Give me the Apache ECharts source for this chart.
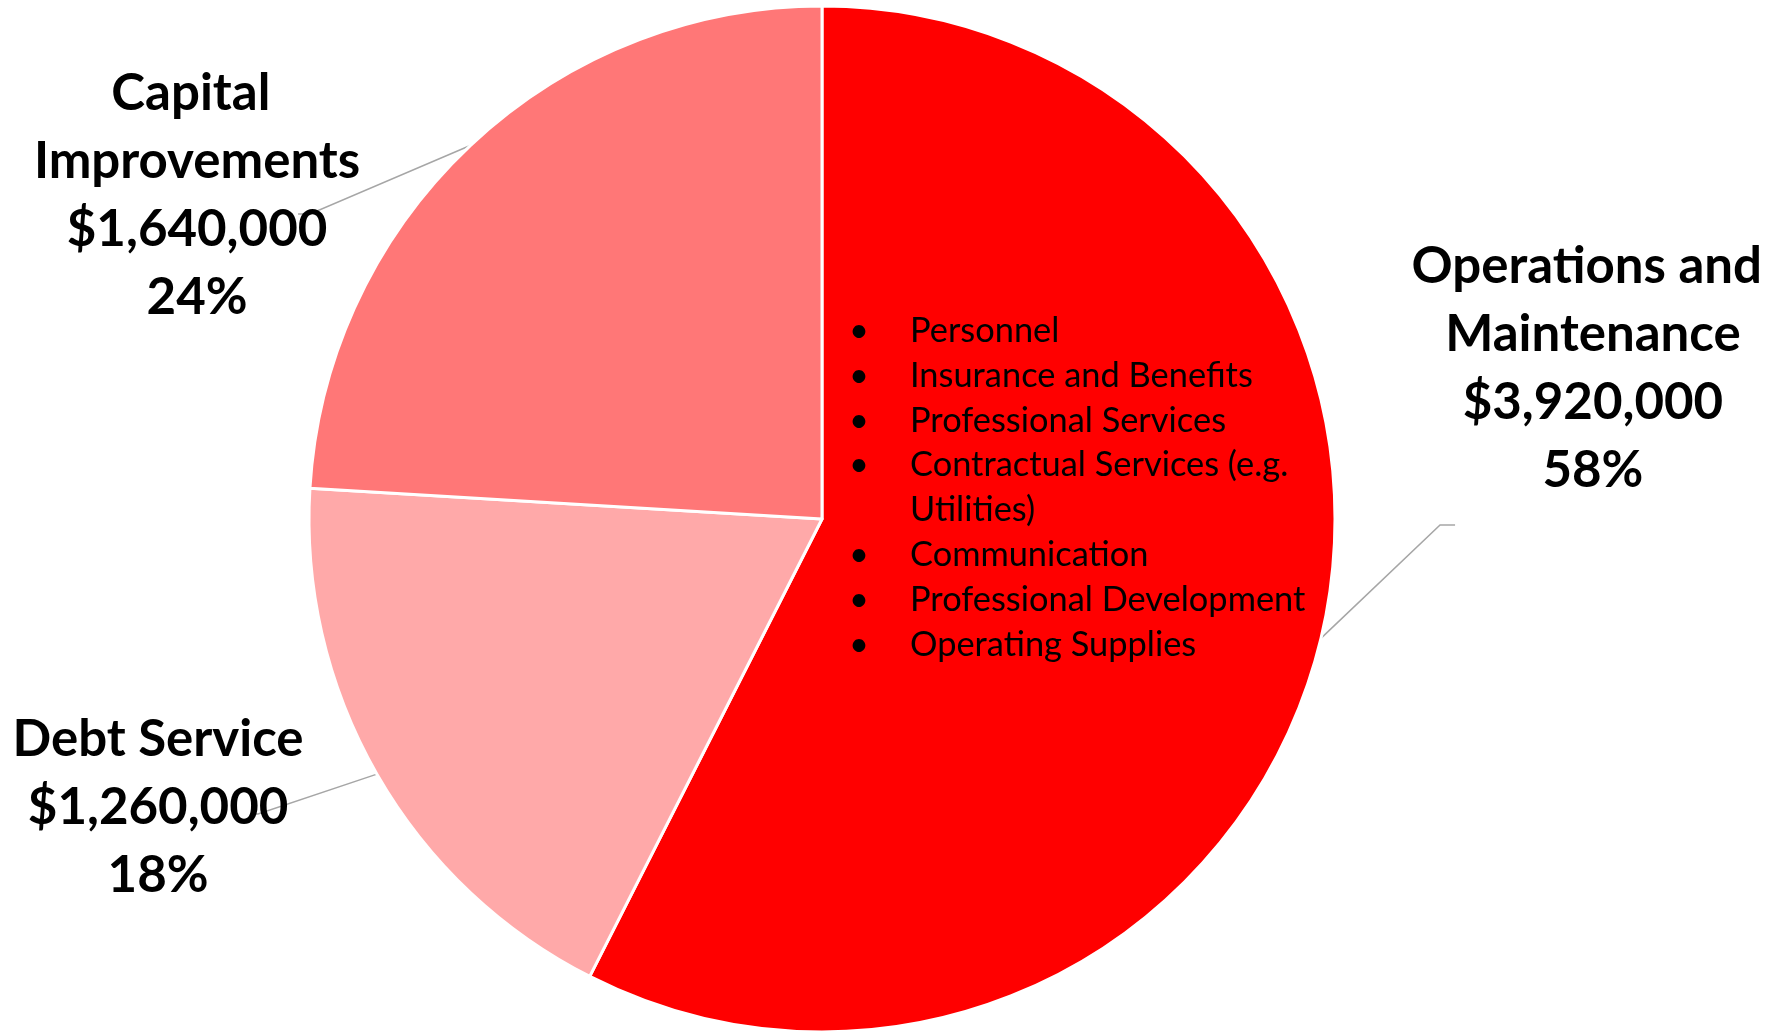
<!DOCTYPE html>
<html>
<head>
<meta charset="utf-8">
<script src="https://cdn.jsdelivr.net/npm/echarts@6/dist/echarts.min.js"></script>
<style>
  html, body { margin: 0; padding: 0; background: #ffffff; }
  #chart { width: 1788px; height: 1032px; }
</style>
</head>
<body>
<div id="chart"></div>
<script>
// Budget split by category (dollars)
const categories = ['Operations and Maintenance', 'Debt Service', 'Capital Improvements'];
const amounts = [3920000, 1260000, 1640000];

// What the operations budget covers
const costItems = [
  'Personnel',
  'Insurance and Benefits',
  'Professional Services',
  'Contractual Services (e.g. Utilities)',
  'Communication',
  'Professional Development',
  'Operating Supplies'
];

// Styling and layout
const sliceColors = ['#FF0000', '#FFA9A9', '#FF7777'];
// label block centres, as fractions of the chart box
const labelSpots = [[0.8909, 0.3576], [0.0884, 0.7829], [0.1102, 0.1899]];
// leader line bend and end points, as fractions of the chart box
const lineEnds = [
  [[0.8054, 0.5087], [0.8138, 0.5087]],
  [[0.1443, 0.7888], [0.1409, 0.7888]],
  [[0.1734, 0.2074], [0.1667, 0.2074]]
];

const chart = echarts.init(document.getElementById('chart'), null, { renderer: 'canvas' });
const W = chart.getWidth();
const H = chart.getHeight();

// Word-wrap the list items to the text box width
const listStyle = { family: 'Lato', size: 34.4, lineHeight: 44.8, left: 910, bulletLeft: 849, firstTop: 308.6, boxWidth: 410 };
const measureCtx = document.createElement('canvas').getContext('2d');
measureCtx.font = listStyle.size + 'px ' + listStyle.family;
function wrap(text) {
  const words = text.split(' ');
  const lines = [];
  let cur = '';
  words.forEach(function (w) {
    const trial = cur ? cur + ' ' + w : w;
    if (cur && measureCtx.measureText(trial).width > listStyle.boxWidth) {
      lines.push(cur);
      cur = w;
    } else {
      cur = trial;
    }
  });
  if (cur) lines.push(cur);
  return lines;
}

const listElements = [];
let lineNo = 0;
costItems.forEach(function (item) {
  wrap(item).forEach(function (line, k) {
    const top = listStyle.firstTop + lineNo * listStyle.lineHeight;
    if (k === 0) {
      listElements.push({
        type: 'text',
        left: listStyle.bulletLeft,
        top: top,
        z: 100,
        silent: true,
        style: {
          text: '\u2022',
          fill: '#000000',
          font: listStyle.size + 'px ' + listStyle.family,
          lineHeight: listStyle.lineHeight
        }
      });
    }
    listElements.push({
      type: 'text',
      left: listStyle.left,
      top: top,
      z: 100,
      silent: true,
      style: {
        text: line,
        fill: '#000000',
        font: listStyle.size + 'px ' + listStyle.family,
        lineHeight: listStyle.lineHeight
      }
    });
    lineNo++;
  });
});

const pieData = categories.map(function (name, i) {
  return { name: name, value: amounts[i], itemStyle: { color: sliceColors[i] } };
});

chart.setOption({
  animation: false,
  backgroundColor: '#ffffff',
  graphic: { elements: listElements },
  series: [{
    type: 'pie',
    center: [822, 519],
    radius: 513,
    startAngle: 90,
    clockwise: true,
    avoidLabelOverlap: false,
    percentPrecision: 0,
    silent: true,
    itemStyle: { borderColor: '#ffffff', borderWidth: 3 },
    label: {
      show: true,
      position: 'outside',
      formatter: function (p) {
        return p.name + '\n$' + p.value.toLocaleString('en-US') + '\n' + p.percent + '%';
      },
      fontFamily: 'Lato',
      fontWeight: 'bold',
      fontSize: 51,
      lineHeight: 68,
      color: '#000000',
      width: 420,
      overflow: 'break',
      align: 'center'
    },
    labelLine: {
      show: true,
      length: 20,
      length2: 20,
      lineStyle: { color: '#A6A6A6', width: 1.5 }
    },
    labelLayout: function (params) {
      const i = params.dataIndex;
      const start = params.labelLinePoints ? params.labelLinePoints[0] : null;
      const out = {
        x: labelSpots[i][0] * W,
        y: labelSpots[i][1] * H,
        align: 'center',
        verticalAlign: 'middle'
      };
      if (start) {
        out.labelLinePoints = [
          [start[0], start[1]],
          [lineEnds[i][0][0] * W, lineEnds[i][0][1] * H],
          [lineEnds[i][1][0] * W, lineEnds[i][1][1] * H]
        ];
      }
      return out;
    },
    data: pieData
  }]
});
</script>
</body>
</html>
